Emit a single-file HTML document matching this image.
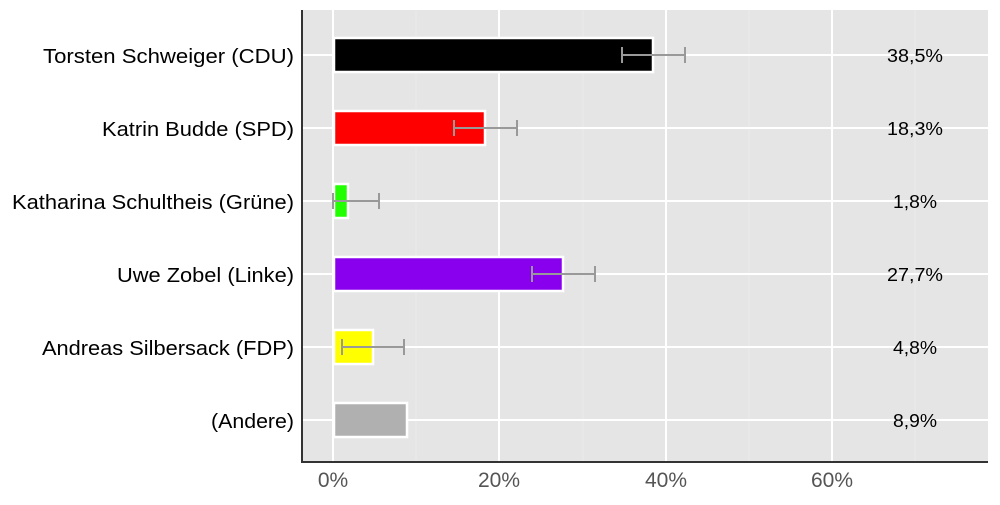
<!DOCTYPE html><html><head><meta charset="utf-8"><style>body{margin:0;background:#fff}</style></head><body>
<svg width="1000" height="500" xmlns="http://www.w3.org/2000/svg" font-family="Liberation Sans, sans-serif">
<rect x="302" y="10" width="686" height="452" fill="#e5e5e5"/>
<g stroke="#ebebeb" stroke-width="1"><line x1="416" y1="10" x2="416" y2="462"/><line x1="583" y1="10" x2="583" y2="462"/><line x1="749" y1="10" x2="749" y2="462"/><line x1="915" y1="10" x2="915" y2="462"/></g>
<g stroke="#fff" stroke-width="2">
<line x1="333" y1="10" x2="333" y2="462"/><line x1="499" y1="10" x2="499" y2="462"/><line x1="666" y1="10" x2="666" y2="462"/><line x1="832" y1="10" x2="832" y2="462"/>
<line x1="302" y1="55" x2="988" y2="55"/><line x1="302" y1="128" x2="988" y2="128"/><line x1="302" y1="201" x2="988" y2="201"/><line x1="302" y1="274" x2="988" y2="274"/><line x1="302" y1="347" x2="988" y2="347"/><line x1="302" y1="420" x2="988" y2="420"/>
</g>
<g stroke="#fff" stroke-width="2.5">
<rect x="334" y="38" width="319" height="34" fill="#000"/>
<rect x="334" y="111" width="151" height="34" fill="#ff0000"/>
<rect x="334" y="184" width="14" height="34" fill="#22ff00"/>
<rect x="334" y="257" width="229" height="34" fill="#8800ee"/>
<rect x="334" y="330" width="39" height="34" fill="#ffff00"/>
<rect x="334" y="403" width="73" height="34" fill="#b0b0b0"/>
</g>
<g stroke="#999" stroke-width="2" fill="none">
<path d="M622 55H685M622 47V63M685 47V63"/>
<path d="M454 128H517M454 120V136M517 120V136"/>
<path d="M333 201H379M333 193V209M379 193V209"/>
<path d="M532 274H595M532 266V282M595 266V282"/>
<path d="M342 347H404M342 339V355M404 339V355"/>
</g>
<line x1="302" y1="10" x2="302" y2="463" stroke="#333" stroke-width="2"/>
<line x1="301" y1="462" x2="988" y2="462" stroke="#333" stroke-width="2"/>
<g font-size="20" text-anchor="end" fill="#000" lengthAdjust="spacingAndGlyphs">
<text x="294" y="63" textLength="251" lengthAdjust="spacingAndGlyphs">Torsten Schweiger (CDU)</text>
<text x="294" y="136" textLength="192" lengthAdjust="spacingAndGlyphs">Katrin Budde (SPD)</text>
<text x="294" y="209" textLength="282" lengthAdjust="spacingAndGlyphs">Katharina Schultheis (Grüne)</text>
<text x="294" y="282" textLength="177" lengthAdjust="spacingAndGlyphs">Uwe Zobel (Linke)</text>
<text x="294" y="355" textLength="252" lengthAdjust="spacingAndGlyphs">Andreas Silbersack (FDP)</text>
<text x="294" y="428" textLength="83" lengthAdjust="spacingAndGlyphs">(Andere)</text>
</g>
<g font-size="18" text-anchor="middle" fill="#000">
<text x="915" y="62" textLength="56" lengthAdjust="spacingAndGlyphs">38,5%</text><text x="915" y="135" textLength="56" lengthAdjust="spacingAndGlyphs">18,3%</text><text x="915" y="208" textLength="44" lengthAdjust="spacingAndGlyphs">1,8%</text><text x="915" y="281" textLength="56" lengthAdjust="spacingAndGlyphs">27,7%</text><text x="915" y="354" textLength="44" lengthAdjust="spacingAndGlyphs">4,8%</text><text x="915" y="427" textLength="44" lengthAdjust="spacingAndGlyphs">8,9%</text>
</g>
<g font-size="21" text-anchor="middle" fill="#555">
<text x="333" y="487">0%</text><text x="499" y="487">20%</text><text x="666" y="487">40%</text><text x="832" y="487">60%</text>
</g>
</svg></body></html>
